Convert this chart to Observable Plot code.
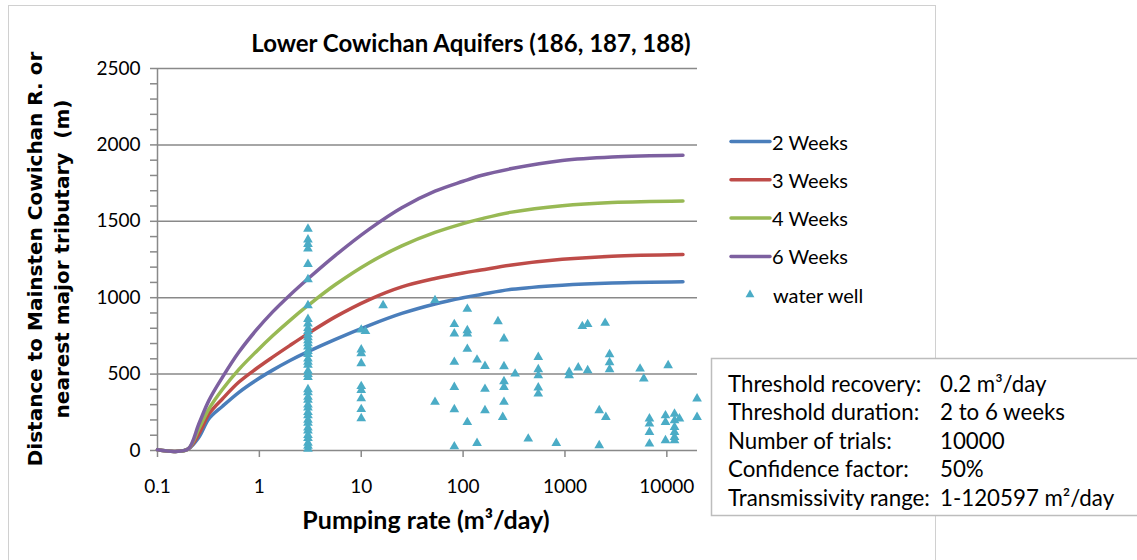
<!DOCTYPE html>
<html><head><meta charset="utf-8">
<script src="https://cdn.jsdelivr.net/npm/d3@7"></script>
<script src="https://cdn.jsdelivr.net/npm/@observablehq/plot@0.6"></script>
<style>
body{margin:0;background:#fff;}
#wrap{position:relative;width:1137px;height:560px;overflow:hidden;background:#fff;}
</style></head><body><div id="wrap"></div>
<script>
// ---- data ----
const pumpRates = [0.1, 0.15, 0.2, 0.255, 0.32, 0.435, 0.63, 0.93, 1.35, 2, 3, 5.5, 12, 25, 53, 100, 150, 300, 940, 2900, 14400];
const twoWeeks  = [5, -6, 10, 87, 208, 290, 381, 460, 526, 589, 647, 726, 819, 897, 959, 1000, 1021, 1055, 1082, 1096, 1104];
const threeWeeks= [5, -6, 10, 109, 240, 339, 448, 535, 611, 688, 765, 873, 988, 1071, 1126, 1162, 1181, 1214, 1251, 1272, 1283];
const fourWeeks = [5, -6, 10, 142, 273, 401, 531, 647, 751, 852, 949, 1083, 1229, 1339, 1427, 1485, 1516, 1560, 1602, 1623, 1633];
const sixWeeks  = [5, -6, 10, 175, 328, 480, 644, 787, 907, 1018, 1124, 1274, 1449, 1589, 1697, 1762, 1800, 1845, 1898, 1921, 1932];
const seriesNames  = ["2 Weeks", "3 Weeks", "4 Weeks", "6 Weeks"];
const seriesColors = ["#4a7ebb", "#be4b48", "#98b954", "#7d60a0"];
const wellLabel = "water well";
const wellColor = "#4bacc6";

const wellRate = [
  3,3,3,3,3,3,3,3,3,3,3,3,3,3,3,3,3,3,3,3,3,3,3,3,3,3,3,3,3,3,3,3,3,3,3,3,3,3,3,3,3,
  10,10,10,10,10,10,10,10,10,11,
  16.4,53,53,
  82,82,82,82,82,82,
  110,110,110,110,110,
  137,137,164,164,164,220,
  252,252,252,252,252,245,
  324,436,547,547,547,547,547,822,1100,1100,1350,1480,1670,1670,
  2170,2170,2520,2480,2740,2740,2740,5460,5940,
  6750,6750,6750,6750,9700,9700,9700,10300,
  11900,11900,11900,11900,11900,11900,13300,19800,19800
];
const wellDist = [
  1450,1380,1350,1320,1220,1120,950,860,830,800,780,760,740,720,700,680,650,630,600,580,560,520,500,480,400,380,350,330,300,280,250,230,200,180,150,130,100,80,50,30,10,
  790,660,635,570,420,395,340,270,210,780,
  950,983,317,
  826,765,579,415,269,26,
  926,786,765,664,185,
  594,48,552,402,262,845,
  732,550,452,415,317,218,
  502,77,611,531,491,411,371,48,513,491,542,813,826,524,
  262,33,218,834,629,577,531,535,470,
  208,175,120,44,229,186,66,557,
  240,197,153,120,87,66,208,339,218
];

const xTicks = [0.1, 1, 10, 100, 1000, 10000];
const xTickLabels = ["0.1", "1", "10", "100", "1000", "10000"];
const yTicks = [0, 500, 1000, 1500, 2000, 2500];
const yMinorTicks = d3.range(0, 2501, 100);

const titleText = "Lower Cowichan Aquifers (186, 187, 188)";
const xTitle = "Pumping rate (m³/day)";
const yTitleLines = ["Distance to Mainsten Cowichan R. or", "nearest major tributary  (m)"];
const infoLabels = ["Threshold recovery:", "Threshold duration:", "Number of trials:", "Confidence factor:", "Transmissivity range:"];
const infoValues = ["0.2 m³/day", "2 to 6 weeks", "10000", "50%", "1-120597 m²/day"];

// ---- build tables ----
const seriesArrays = [twoWeeks, threeWeeks, fourWeeks, sixWeeks];
const curves = [];
seriesArrays.forEach((arr, i) => arr.forEach((v, j) => curves.push({x: pumpRates[j], y: v, s: seriesNames[i]})));
const wells = wellRate.map((r, i) => ({x: r, y: wellDist[i]}));

const gray = "#898989";
const chart = Plot.plot({
  width: 1137, height: 560,
  marginLeft: 157, marginRight: 440, marginTop: 68, marginBottom: 110,
  style: {fontFamily: "Lato, sans-serif", fontSize: "19px", color: "#000", background: "transparent", overflow: "visible"},
  x: {type: "log", domain: [0.1, 20000]},
  y: {domain: [0, 2500]},
  color: {domain: seriesNames, range: seriesColors},
  marks: [
    Plot.gridY(yTicks, {stroke: gray, strokeOpacity: 1, strokeWidth: 1.5}),
    Plot.axisY(yMinorTicks, {tickSize: 7, tickPadding: 10, stroke: gray, strokeWidth: 1.5,
      tickFormat: d => yTicks.includes(d) ? String(d) : "", label: null}),
    Plot.ruleX([0.1], {stroke: gray, strokeWidth: 1.5}),
    Plot.axisX(xTicks, {tickSize: 7, tickPadding: 22, stroke: gray, strokeWidth: 1.5,
      tickFormat: d => xTickLabels[xTicks.indexOf(d)], label: null}),
    Plot.line(curves, {x: "x", y: "y", z: "s", stroke: "s", strokeWidth: 3.5, curve: "catmull-rom", strokeLinecap: "round"}),
    Plot.dot(wells, {x: "x", y: "y", symbol: "triangle", r: 3.6, fill: wellColor, stroke: null})
  ]
});
document.getElementById("wrap").appendChild(chart);

// ---- annotations ----
const svg = d3.select(chart);
svg.insert("rect", ":first-child")
  .attr("x", 8.5).attr("y", 5.5).attr("width", 927).attr("height", 620)
  .attr("fill", "none").attr("stroke", "#d0d0d0").attr("stroke-width", 1);

svg.append("text").text(titleText)
  .attr("x", 471).attr("y", 42).attr("text-anchor", "middle").attr("dominant-baseline", "central")
  .attr("font-family", "Lato, sans-serif").attr("font-weight", "bold").attr("font-size", 24).attr("fill", "#000");

svg.append("text").text(xTitle)
  .attr("x", 426).attr("y", 519).attr("text-anchor", "middle").attr("dominant-baseline", "central")
  .attr("font-family", "Lato, sans-serif").attr("font-weight", "bold").attr("font-size", 25).attr("fill", "#000");

yTitleLines.forEach((t, i) => {
  svg.append("text").text(t)
    .attr("transform", `translate(${35 + i * 27},259) rotate(-90)`)
    .attr("text-anchor", "middle").attr("dominant-baseline", "central")
    .attr("font-family", "DejaVu Sans, sans-serif").attr("font-weight", "bold").attr("font-size", 20).attr("fill", "#000");
});

// legend
const lg = svg.append("g").attr("font-family", "Lato, sans-serif").attr("font-size", 20).attr("text-anchor", "start");
seriesNames.forEach((name, i) => {
  const y = 141.5 + i * 38.3;
  lg.append("line").attr("x1", 731).attr("x2", 770).attr("y1", y).attr("y2", y)
    .attr("stroke", seriesColors[i]).attr("stroke-width", 3.5).attr("stroke-linecap", "round");
  lg.append("text").text(name).attr("x", 772).attr("y", y).attr("dominant-baseline", "central").attr("fill", "#000");
});
const wy = 141.5 + 4 * 38.3;
lg.append("path").attr("d", d3.symbol(d3.symbolTriangle, 34)()).attr("transform", `translate(750,${wy})`).attr("fill", wellColor);
lg.append("text").text(wellLabel).attr("x", 773).attr("y", wy).attr("dominant-baseline", "central").attr("fill", "#000");

// info box
const ib = svg.append("g").attr("font-family", "Lato, sans-serif").attr("font-size", 22.3).attr("text-anchor", "start");
ib.append("rect").attr("x", 711.5).attr("y", 358.5).attr("width", 440).attr("height", 157)
  .attr("fill", "#fff").attr("stroke", "#bdbdbd").attr("stroke-width", 1.5);
infoLabels.forEach((t, i) => {
  const y = 383 + i * 28.5;
  ib.append("text").text(t).attr("x", 728).attr("y", y).attr("dominant-baseline", "central").attr("fill", "#000");
  ib.append("text").text(infoValues[i]).attr("x", 940).attr("y", y).attr("dominant-baseline", "central").attr("fill", "#000");
});
</script></body></html>
